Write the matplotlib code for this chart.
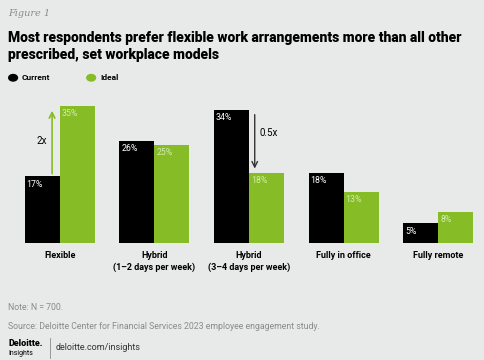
import numpy as np
import matplotlib.pyplot as plt

# data
categories = ['Flexible', 'Hybrid\n(1–2 days per week)', 'Hybrid\n(3–4 days per week)',
              'Fully in office', 'Fully remote']
current = [17, 26, 34, 18, 5]
ideal = [35, 25, 18, 13, 8]

bg = '#e8eae9'
green = '#86bc25'
black = '#000000'
grey = '#8a8c8c'

plt.rcParams['font.family'] = ['Roboto', 'DejaVu Sans']

fig = plt.figure(figsize=(4.85, 3.6), dpi=100, facecolor=bg)
ax = fig.add_axes([0.041, 0.325, 0.945, 0.411])
ax.set_facecolor(bg)

x = np.arange(len(categories))
w = 0.37
ax.bar(x - w / 2, current, w, color=black)
ax.bar(x + w / 2, ideal, w, color=green)

# value labels inside the bar tops
for i in range(len(x)):
    ax.text(x[i] - w + 0.02, current[i] - 0.8, f'{current[i]}%', color='white',
            fontsize=6.3, va='top', ha='left')
    ax.text(x[i] + 0.02, ideal[i] - 0.8, f'{ideal[i]}%', color='#d4ecb0',
            fontsize=6.3, va='top', ha='left')

# multiplier arrows
ax.annotate('', xy=(x[0] - 0.08, ideal[0] - 0.5), xytext=(x[0] - 0.08, current[0]),
            arrowprops=dict(arrowstyle='->', color=green, lw=1.2))
ax.text(x[0] - 0.13, (ideal[0] + current[0]) / 2, '2x', fontsize=7, ha='right', va='center')
ax.annotate('', xy=(x[2] + 0.06, ideal[2] + 0.3), xytext=(x[2] + 0.06, current[2] - 0.5),
            arrowprops=dict(arrowstyle='->', color='#333333', lw=1.0))
ax.text(x[2] + 0.11, (current[2] + ideal[2]) / 2 + 2, '0.5x', fontsize=7, ha='left', va='center')

ax.set_xlim(-0.42, 4.42)
ax.set_ylim(0, 37.8)
ax.set_xticks(x)
ax.set_xticklabels(categories, fontsize=6.5, fontweight='bold', linespacing=1.3)
ax.tick_params(axis='x', length=0, pad=6)
ax.set_yticks([])
for s in ax.spines.values():
    s.set_visible(False)

# header
fig.text(0.017, 0.963, 'Figure 1', fontsize=7, style='italic', color=grey,
         family='DejaVu Serif', va='center')
fig.text(0.017, 0.87, 'Most respondents prefer flexible work arrangements more than all other\n'
         'prescribed, set workplace models', fontsize=10, fontweight='heavy',
         va='center', linespacing=1.3)

# legend
fig.patches.append(plt.Circle((0.027, 0.784), 0.009, color=black, transform=fig.transFigure))
fig.text(0.045, 0.784, 'Current', fontsize=6, fontweight='bold', va='center')
fig.patches.append(plt.Circle((0.188, 0.784), 0.009, color=green, transform=fig.transFigure))
fig.text(0.206, 0.784, 'Ideal', fontsize=6, fontweight='bold', va='center')

# footer
fig.text(0.017, 0.147, 'Note: N = 700.', fontsize=6.3, color=grey, va='center')
fig.text(0.017, 0.092, 'Source: Deloitte Center for Financial Services 2023 employee engagement study.',
         fontsize=6.3, color=grey, va='center')
fig.text(0.017, 0.045, 'Deloitte.', fontsize=6.5, fontweight='heavy', va='center')
fig.text(0.017, 0.018, 'Insights', fontsize=5, va='center')
fig.add_artist(plt.Line2D([0.103, 0.103], [0.005, 0.06], color=grey, lw=0.6))
fig.text(0.115, 0.035, 'deloitte.com/insights', fontsize=6.5, color='#333333', va='center')

fig.savefig('out.png', dpi=100, facecolor=bg)
